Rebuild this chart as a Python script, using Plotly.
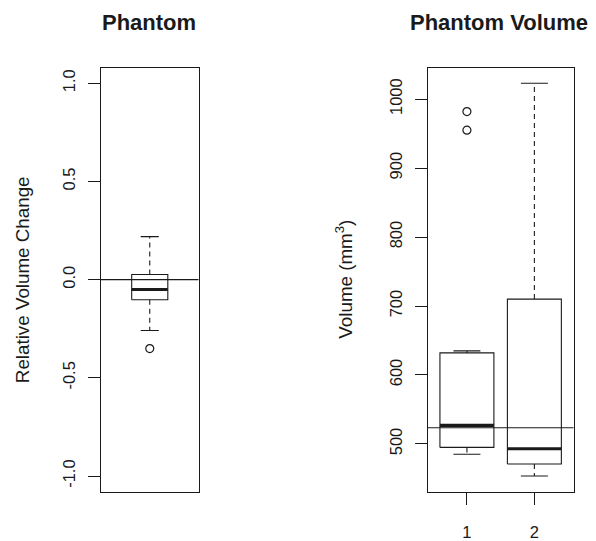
import plotly.graph_objects as go

# Relative volume change (single group)
rel_lower = [-0.259]
rel_q1 = [-0.102]
rel_median = [-0.05]
rel_q3 = [0.026]
rel_upper = [0.219]
rel_outliers = [-0.351]
rel_ref = 0.0
rel_ylim = [-1.0, 1.0]
rel_ticks = [-1.0, -0.5, 0.0, 0.5, 1.0]
rel_ticklabels = ["-1.0", "-0.5", "0.0", "0.5", "1.0"]

# Phantom volume (two groups)
vol_groups = [1, 2]
vol_lower = [485, 453.4]
vol_q1 = [495, 471]
vol_median = [527, 493]
vol_q3 = [632, 710]
vol_upper = [635, 1023]
vol_outlier_group = [1, 1]
vol_outlier_value = [955, 982]
vol_ref = 523.5
vol_ticks = [500, 600, 700, 800, 900, 1000]

FONT = "Liberation Sans, Arial, sans-serif"
INK = "#1a1a1a"


def r_range(lo, hi):
    span = hi - lo
    return [lo - 0.04 * span, hi + 0.04 * span]


def add_box(fig, x, lo, q1, med, q3, hi, width, xa, ya):
    h = width / 2
    c = width / 4
    kw = dict(xaxis=xa, yaxis=ya, mode="lines", showlegend=False, hoverinfo="skip")
    # box body
    fig.add_trace(go.Scatter(x=[x - h, x + h, x + h, x - h, x - h],
                             y=[q1, q1, q3, q3, q1],
                             line=dict(color=INK, width=1.1), **kw))
    # median
    fig.add_trace(go.Scatter(x=[x - h, x + h], y=[med, med],
                             line=dict(color=INK, width=3.2), **kw))
    # whiskers
    fig.add_trace(go.Scatter(x=[x, x, None, x, x], y=[q3, hi, None, q1, lo],
                             line=dict(color=INK, width=1.1, dash="5px,4px"), **kw))
    # staples
    fig.add_trace(go.Scatter(x=[x - c, x + c, None, x - c, x + c],
                             y=[hi, hi, None, lo, lo],
                             line=dict(color=INK, width=1.1), **kw))


fig = go.Figure()

for i in range(len(rel_median)):
    add_box(fig, 1, rel_lower[i], rel_q1[i], rel_median[i], rel_q3[i], rel_upper[i],
            0.4, "x", "y")
fig.add_trace(go.Scatter(x=[1] * len(rel_outliers), y=rel_outliers, mode="markers",
                         xaxis="x", yaxis="y", showlegend=False, hoverinfo="skip",
                         marker=dict(symbol="circle-open", size=8, color=INK,
                                     line=dict(width=1.2, color=INK))))

for i, g in enumerate(vol_groups):
    add_box(fig, g, vol_lower[i], vol_q1[i], vol_median[i], vol_q3[i], vol_upper[i],
            0.8, "x2", "y2")
fig.add_trace(go.Scatter(x=vol_outlier_group, y=vol_outlier_value, mode="markers",
                         xaxis="x2", yaxis="y2", showlegend=False, hoverinfo="skip",
                         marker=dict(symbol="circle-open", size=8, color=INK,
                                     line=dict(width=1.2, color=INK))))

# reference lines across each panel
fig.add_shape(type="line", xref="x domain", yref="y", x0=0, x1=1, y0=rel_ref, y1=rel_ref,
              line=dict(color=INK, width=1.1))
fig.add_shape(type="line", xref="x2 domain", yref="y2", x0=0, x1=1, y0=vol_ref, y1=vol_ref,
              line=dict(color=INK, width=1.1))

W, H = 596, 541
ydom = [1 - 497.3 / H, 1 - 68.3 / H]
axis_common = dict(showline=True, mirror=True, linecolor=INK, linewidth=1.2,
                   showgrid=False, zeroline=False)
tickfont = dict(family=FONT, size=16.5, color=INK)

vol_lo = min(min(vol_lower), min(vol_outlier_value))
vol_hi = max(max(vol_upper), max(vol_outlier_value))

fig.update_layout(
    width=W, height=H,
    margin=dict(l=0, r=0, t=0, b=0),
    paper_bgcolor="white", plot_bgcolor="white",
    font=dict(family=FONT, color=INK),
    xaxis=dict(domain=[101 / W, 198.5 / W], range=[0.46, 1.54], showticklabels=False,
               ticks="", **axis_common),
    yaxis=dict(domain=ydom, range=r_range(*rel_ylim), tickvals=rel_ticks,
               ticktext=rel_ticklabels, tickangle=-90, ticks="outside", ticklen=12,
               tickcolor=INK, tickwidth=1.2, tickfont=tickfont, ticklabelstandoff=6,
               **axis_common),
    xaxis2=dict(domain=[427.8 / W, 573.5 / W], range=[0.42, 2.58], anchor="y2",
                tickvals=vol_groups, ticktext=[str(g) for g in vol_groups],
                ticks="outside", ticklen=12, tickcolor=INK, tickwidth=1.2,
                tickfont=tickfont, ticklabelstandoff=13, **axis_common),
    yaxis2=dict(domain=ydom, range=r_range(vol_lo, vol_hi), anchor="x2",
                tickvals=vol_ticks, tickangle=-90, ticks="outside", ticklen=12,
                tickcolor=INK, tickwidth=1.2, tickfont=tickfont, ticklabelstandoff=6,
                **axis_common),
)

ymid = (ydom[0] + ydom[1]) / 2
fig.add_annotation(text="<b>Phantom</b>", x=149 / W, y=1 - 22.5 / H, xref="paper", yref="paper",
                   xanchor="center", yanchor="middle", showarrow=False,
                   font=dict(family=FONT, size=22, color=INK))
fig.add_annotation(text="<b>Phantom Volume</b>", x=499 / W, y=1 - 22.5 / H, xref="paper",
                   yref="paper", xanchor="center", yanchor="middle", showarrow=False,
                   font=dict(family=FONT, size=22, color=INK))
fig.add_annotation(text="Relative Volume Change", x=22.5 / W, y=ymid, xref="paper",
                   yref="paper", xanchor="center", yanchor="middle", textangle=-90,
                   showarrow=False, font=dict(family=FONT, size=18.8, color=INK))
fig.add_annotation(text="Volume (mm<sup>3</sup>)", x=344 / W, y=ymid, xref="paper",
                   yref="paper", xanchor="center", yanchor="middle", textangle=-90,
                   showarrow=False, font=dict(family=FONT, size=18.8, color=INK))

fig.write_html("out.html")
